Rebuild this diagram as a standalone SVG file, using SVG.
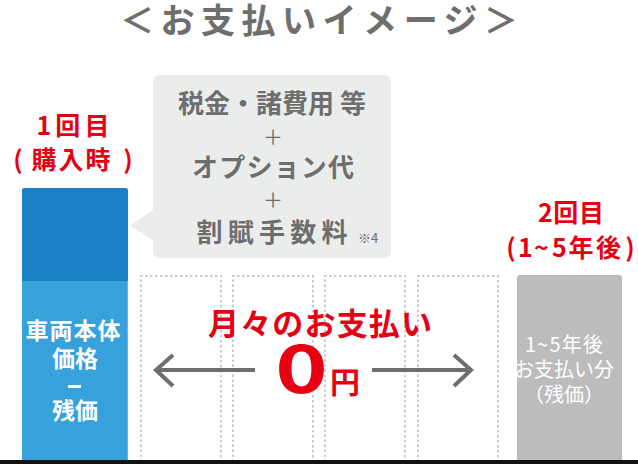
<svg xmlns="http://www.w3.org/2000/svg" width="638" height="464" viewBox="0 0 638 464">
<style>
  text { font-family: "Noto Sans CJK JP", "Noto Sans", sans-serif; }
  .gray { fill: #6e6e6e; font-weight: 700; }
  .red { fill: #e60012; font-weight: 700; }
  .white { fill: #ffffff; font-weight: 700; }
  .white-r { fill: #ffffff; font-weight: 400; }
  .plus { fill: #6e6e6e; font-weight: 400; }
  .dot { fill: none; stroke: #cacaca; stroke-width: 2; stroke-dasharray: 2.5 2.5; }
  .arr { fill: none; stroke: #6e6e6e; stroke-width: 4; stroke-linecap: butt; }
</style>
<rect width="638" height="464" fill="#ffffff"/>

<g id="title">
  <text class="gray" x="120" y="33" font-size="34" textLength="398" lengthAdjust="spacing">＜お支払いイメージ＞</text>
</g>

<g id="dotted-boxes">
  <path class="dot" d="M141 462 V276 H221 V462"/>
  <path class="dot" d="M233 462 V276 H313 V462"/>
  <path class="dot" d="M325 462 V276 H405 V462"/>
  <path class="dot" d="M418 462 V276 H498 V462"/>
</g>

<g id="bubble">
  <rect x="153" y="75" width="238" height="183" rx="6" fill="#ebeded"/>
  <path d="M154 209 L130 226 L154 241 Z" fill="#ebeded"/>
  <text class="gray" x="272" y="113" font-size="26" text-anchor="middle">税金・諸費用 等</text>
  <text class="plus" x="273" y="145" font-size="20" text-anchor="middle">＋</text>
  <text class="gray" x="273" y="177" font-size="26" text-anchor="middle" textLength="162" lengthAdjust="spacing">オプション代</text>
  <text class="plus" x="273" y="208" font-size="20" text-anchor="middle">＋</text>
  <text class="gray" x="272" y="242" font-size="26" text-anchor="middle" textLength="151" lengthAdjust="spacing">割賦手数料</text>
  <text class="plus" x="358" y="243" font-size="13">※4</text>
</g>

<g id="first-payment">
  <text class="red" x="73" y="135" font-size="25" text-anchor="middle" textLength="73" lengthAdjust="spacing">1回目</text>
  <text class="red" font-size="25" text-anchor="middle" y="169"><tspan x="18">(</tspan><tspan x="44">購</tspan><tspan x="71">入</tspan><tspan x="98">時</tspan><tspan x="128">)</tspan></text>
  <path d="M22 191 Q22 188 25 188 H125 Q128 188 128 191 V460 H22 Z" fill="#36a1db"/>
  <path d="M22 191 Q22 188 25 188 H125 Q128 188 128 191 V281 H22 Z" fill="#1b80c4"/>
  <line x1="127.5" y1="281" x2="127.5" y2="460" stroke="#5fb8ea" stroke-width="1"/>
  <text class="white" x="73" y="339" font-size="23" text-anchor="middle" textLength="95" lengthAdjust="spacing">車両本体</text>
  <text class="white" x="75" y="367" font-size="23" text-anchor="middle">価格</text>
  <rect x="68" y="385" width="13" height="3" fill="#ffffff"/>
  <text class="white" x="75" y="419" font-size="23" text-anchor="middle">残価</text>
</g>

<g id="monthly">
  <text class="red" x="320" y="335" font-size="31" text-anchor="middle" textLength="224" lengthAdjust="spacing">月々のお支払い</text>
  <text class="red" font-size="66" text-anchor="middle" font-family="'Liberation Sans', sans-serif" transform="translate(301.5 393) scale(1.35 1)">0</text>
  <text class="red" x="345" y="393" font-size="30" text-anchor="middle">円</text>
</g>

<g id="connectors">
  <path class="arr" d="M255 370 H155"/>
  <path class="arr" d="M173 355 L156 370 L173 386"/>
  <path class="arr" d="M372 370 H470"/>
  <path class="arr" d="M454 355 L471 370 L454 386"/>
</g>

<g id="second-payment">
  <text class="red" x="571" y="222" font-size="25" text-anchor="middle" textLength="66" lengthAdjust="spacing">2回目</text>
  <text class="red" font-size="25" text-anchor="middle" y="257"><tspan x="511">(</tspan><tspan x="525.5">1</tspan><tspan x="541.5">~</tspan><tspan x="559.5">5</tspan><tspan x="581">年</tspan><tspan x="608.5">後</tspan><tspan x="630">)</tspan></text>
  <path d="M517 278 Q517 275 520 275 H619 Q622 275 622 278 V460 H517 Z" fill="#bcbcbc"/>
  <text class="white-r" x="564" y="352" font-size="20" text-anchor="middle" textLength="78" lengthAdjust="spacing">1~5年後</text>
  <text class="white-r" x="564" y="377" font-size="20" text-anchor="middle">お支払い分</text>
  <text class="white-r" x="564" y="402" font-size="20" text-anchor="middle">（残価）</text>
</g>

<rect x="0" y="460" width="638" height="4" fill="#111111"/>
</svg>
